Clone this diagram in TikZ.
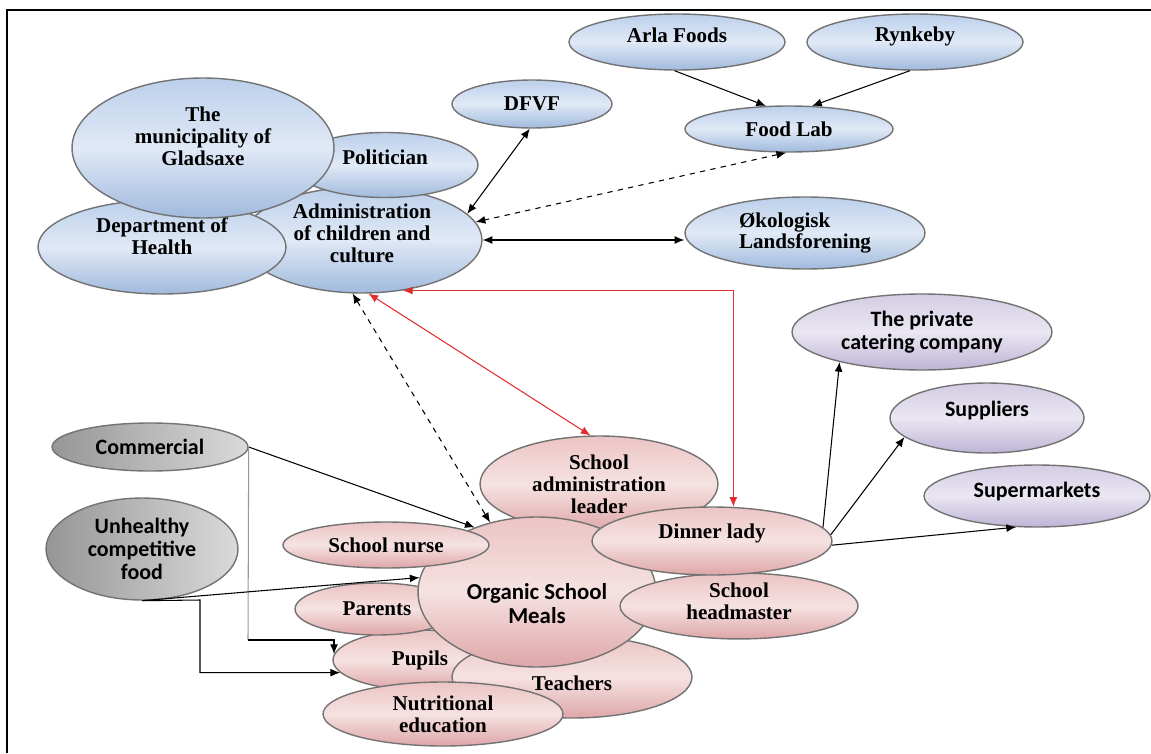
\documentclass[tikz,border=0pt]{standalone}
\usepackage{fontspec}
\setmainfont{Liberation Serif}
\newfontfamily\calibri{Carlito}
\usetikzlibrary{shapes.geometric,arrows.meta}
\definecolor{blueA}{RGB}{188,208,235}
\definecolor{blueB}{RGB}{224,233,246}
\definecolor{blueC}{RGB}{160,186,221}
\definecolor{pinkA}{RGB}{236,196,196}
\definecolor{pinkB}{RGB}{246,226,226}
\definecolor{pinkC}{RGB}{222,166,168}
\definecolor{lilacA}{RGB}{212,205,228}
\definecolor{lilacB}{RGB}{234,230,242}
\definecolor{lilacC}{RGB}{190,180,214}
\definecolor{greyA}{RGB}{150,150,150}
\definecolor{greyB}{RGB}{218,218,218}
\definecolor{myred}{RGB}{225,45,45}

\begin{document}
\begin{tikzpicture}[x=0.02cm,y=-0.02cm,
  >={Latex[length=5.5pt,width=4.5pt]},
  bub/.style={ellipse,draw=black!55,line width=0.8pt,inner sep=0pt,align=center},
  bluebub/.style={bub,top color=blueA,bottom color=blueC,middle color=blueB,
    font=\fontsize{12}{12.5}\selectfont\bfseries},
  pinkbub/.style={bub,top color=pinkA,bottom color=pinkC,middle color=pinkB,
    font=\fontsize{12}{12.5}\selectfont\bfseries},
  lilacbub/.style={bub,top color=lilacA,bottom color=lilacC,middle color=lilacB,
    font=\calibri\fontsize{12.5}{13}\selectfont\bfseries},
  greybub/.style={bub,left color=greyA,right color=greyB,
    font=\calibri\fontsize{12.5}{13}\selectfont\bfseries},
  link/.style={line width=0.6pt},
  redlink/.style={link,draw=myred,<->}
]
\useasboundingbox (0,0) rectangle (1151,753);

% frame
\draw[line width=1.1pt] (7,753) -- (7,10) -- (1151,10);

% municipality group
\node[bluebub, text depth=0.28cm, minimum width=4.8cm, minimum height=2.12cm] (admin) at (362,240) {Administration\\of children and\\culture};
\node[bluebub, text depth=0.44cm, minimum width=4.96cm, minimum height=1.88cm] (dept) at (162,247) {Department of\\Health};
\node[bluebub, text depth=0.32cm, minimum width=3.72cm, minimum height=1.3cm] (politician) at (385,165) {Politician};
\node[bluebub, text depth=0.48cm, minimum width=5.24cm, minimum height=2.8cm] (muni) at (203,148) {The\\municipality of\\Gladsaxe};

% other actors
\node[bluebub, minimum width=3.2cm, minimum height=0.96cm] (dfvf) at (532,104) {DFVF};
\node[bluebub, text depth=0.28cm, minimum width=4.32cm, minimum height=1.12cm] (arla) at (677,42) {Arla Foods};
\node[bluebub, text depth=0.33cm, minimum width=4.32cm, minimum height=1.12cm] (rynkeby) at (915,42) {Rynkeby};
\node[bluebub, minimum width=4.16cm, minimum height=0.92cm] (foodlab) at (789,129) {Food Lab};
\node[bluebub, align=left, minimum width=4.8cm, minimum height=1.44cm] (okologisk) at (805,233) {Økologisk\\Landsforening};

% market side
\node[lilacbub, minimum width=5.2cm, minimum height=1.52cm] (catering) at (922,332) {The private\\catering company};
\node[lilacbub, text depth=0.38cm, minimum width=3.88cm, minimum height=1.4cm] (suppliers) at (987,418) {Suppliers};
\node[lilacbub, text depth=0.25cm, minimum width=4.52cm, minimum height=1.24cm] (supermarkets) at (1037,496) {Supermarkets};
\node[greybub, minimum width=3.92cm, minimum height=0.96cm] (commercial) at (150,447) {Commercial};
\node[greybub, minimum width=3.84cm, minimum height=2.04cm] (unhealthy) at (142,549) {Unhealthy\\competitive\\food};

% school group
\node[pinkbub, minimum width=4.76cm, minimum height=1.92cm] (leader) at (599,484) {School\\administration\\leader};
\node[pinkbub, minimum width=3.48cm, minimum height=1.2cm] (pupils) at (420,660) {Pupils};
\node[pinkbub, text height=0.53cm, minimum width=4.8cm, minimum height=1.64cm] (teachers) at (572,677) {Teachers};
\node[pinkbub, minimum width=3.28cm, minimum height=1.04cm] (parents) at (377,609) {Parents};
\node[pinkbub, font=\calibri\fontsize{13}{13.5}\selectfont\bfseries, text height=1.25cm, minimum width=4.76cm, minimum height=3cm] (organic) at (537,592) {Organic School\\Meals};
\node[pinkbub, minimum width=4.12cm, minimum height=0.92cm] (nurse) at (386,545) {School nurse};
\node[pinkbub, text depth=0.2cm, minimum width=4.76cm, minimum height=1.16cm] (headmaster) at (739,606) {School\\headmaster};
\node[pinkbub, text depth=0.38cm, minimum width=4.8cm, minimum height=1.36cm] (dinner) at (712,541) {Dinner lady};
\node[pinkbub, minimum width=4.8cm, minimum height=1.28cm] (nutritional) at (443,714) {Nutritional\\education};

% links of the administration
\draw[link,<->] (dfvf.265) -- (admin.14);
\draw[link,<->,dashed] (foodlab.263) -- (admin.9);
\draw[link,<->] (admin.east) -- (admin.east -| okologisk.west);
\draw[link,->] (arla.265) -- (foodlab.135);
\draw[link,->] (rynkeby.260) -- (foodlab.45);
\draw[link,<->,dashed] (admin.260) -- (organic.124);
\draw[redlink] (admin.277) -- (leader.100);
\draw[redlink] (admin.309) -| (dinner.58);

% influences on the pupils
\coordinate (cbend) at (248,640);
\coordinate (ubend) at (200,600);
\draw[link,->] (commercial.east) -- (organic.134);
\draw[link,draw=black!40] (commercial.east) -- (cbend);
\draw[link,->] (cbend) -| (pupils.176);
\draw[link,->] (unhealthy.south) -- (organic.173);
\draw[link,->] (unhealthy.south) -- (ubend) |- (pupils.189);

% dinner lady and the market
\draw[link,->] (dinner.7) -- (catering.200);
\draw[link,->] (dinner.3) -- (suppliers.193);
\draw[link,->] (dinner.-2) -- (supermarkets.236);

\end{tikzpicture}
\end{document}
